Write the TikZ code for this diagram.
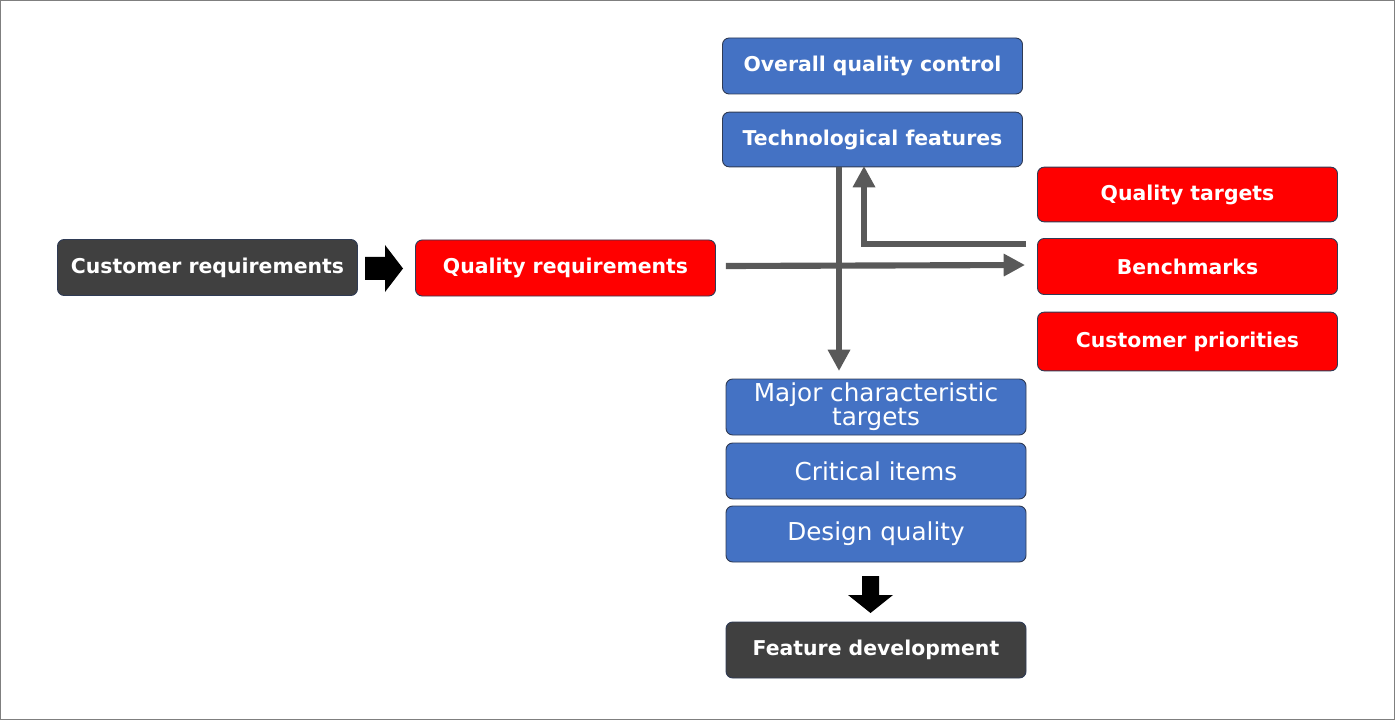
\documentclass[tikz,border=0pt]{standalone}
\usepackage{fontspec}
\setmainfont{DejaVu Sans}
\usetikzlibrary{arrows.meta,calc}
\definecolor{darkbox}{HTML}{404040}
\definecolor{redbox}{HTML}{FF0000}
\definecolor{bluebox}{HTML}{4472C4}
\definecolor{edgeline}{HTML}{2F3B55}
\definecolor{conn}{HTML}{595959}
\definecolor{frame}{HTML}{7F7F7F}
\tikzset{
  box/.style={draw=edgeline, line width=0.7pt, rounded corners=5pt, text=white,
    minimum width=225pt, minimum height=42pt, inner sep=0pt, align=center,
    font=\fontsize{15.3}{17}\selectfont\bfseries},
  boxreg/.style={box, font=\fontsize{18.5}{16.5}\selectfont},
  dbox/.style={box, fill=darkbox},
  rbox/.style={box, fill=redbox},
  bbox/.style={box, fill=bluebox},
  breg/.style={boxreg, fill=bluebox},
  connector/.style={draw=conn, line width=4.6pt, -{Triangle[length=16pt,width=16pt]}},
  blockarrow/.style={fill=black, draw=none}
}
\begin{document}
\begin{tikzpicture}[x=0.75pt,y=-0.75pt]
\useasboundingbox (0,0) rectangle (1395,720);
\draw[frame, line width=0.75pt] (0.5,0.5) rectangle (1394.5,719.5);

\node[dbox] (cust) at (207.5,267.5) {Customer requirements};
\node[rbox] (qreq) at (565.5,268) {Quality requirements};
\node[bbox] (oqc) at (872.5,66) {Overall quality control};
\node[bbox, minimum height=41pt] (tech) at (872.5,139.5) {Technological features};
\node[rbox, minimum height=41pt] (qt) at (1187.5,194.5) {Quality targets};
\node[rbox] (bench) at (1187.5,266.5) {Benchmarks};
\node[rbox, minimum height=44pt] (cprio) at (1187.5,341.5) {Customer priorities};
\node[breg] (major) at (876,407) {Major characteristic\\targets};
\node[breg] (crit) at (876,471) {Critical items};
\node[breg] (design) at (876,534) {Design quality};
\node[dbox] (feat) at (876,650) {Feature development};

% block arrows
\fill[blockarrow] (365,257) -- (385,257) -- (385,245) -- (403,268.5) -- (385,292) -- (385,280) -- (365,280) -- cycle;
\fill[blockarrow] (862,576) -- (879,576) -- (879,595) -- (893,595) -- (870.5,613) -- (848,595) -- (862,595) -- cycle;

% connectors
\coordinate (hstart) at ($(qreq.east)+(10,-2)$);
\coordinate (hend) at ($(bench.west)+(-12,-1.5)$);
\draw[connector] (hstart) -- (hend);
\coordinate (vstart) at (839,167);
\coordinate (vend) at (839,371);
\draw[connector] (vstart) -- (vend);
\coordinate (estart) at (1026,244);
\draw[connector] (estart) -- (864,244) -- (864,166);
\end{tikzpicture}
\end{document}
